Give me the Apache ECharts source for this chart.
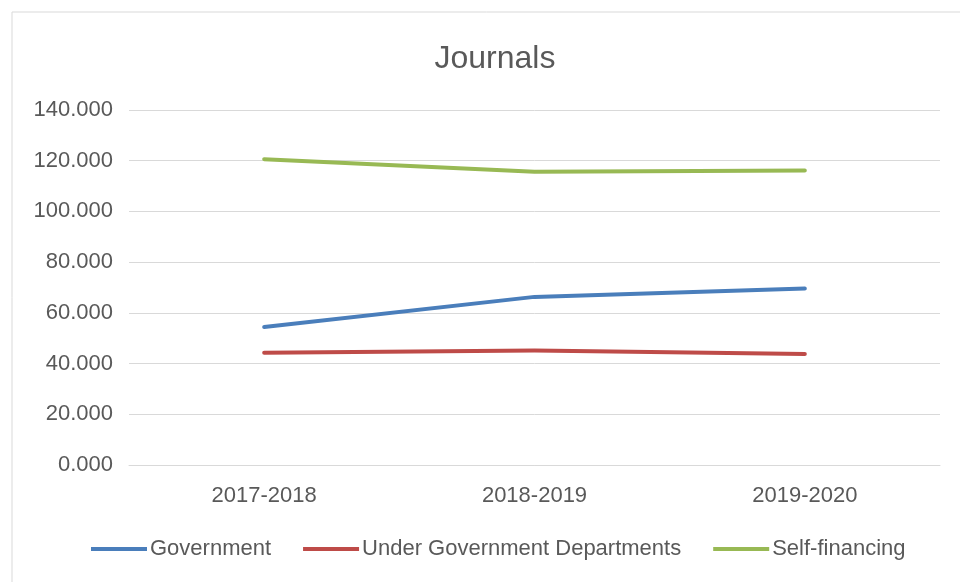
<!DOCTYPE html>
<html>
<head>
<meta charset="utf-8">
<script src="https://cdn.jsdelivr.net/npm/echarts@6/dist/echarts.min.js"></script>
<style>
  html, body { margin: 0; padding: 0; background: #fff; }
  #chart-container { width: 960px; height: 582px; }
</style>
</head>
<body>
<div id="chart-container"></div>
<script>
// data
var years = ["2017-2018", "2018-2019", "2019-2020"];
var government = [54.4, 66.3, 69.6];
var underGovDepts = [44.3, 45.2, 43.8];
var selfFinancing = [120.6, 115.6, 116.1];
var seriesNames = ["Government", "Under Government Departments", "Self-financing"];

var dom = document.getElementById("chart-container");
var myChart = echarts.init(dom, null, { renderer: "canvas" });

var font = "'Liberation Sans', sans-serif";
var textColor = "#595959";

var lineSeries = function (name, data, color) {
  return {
    name: name,
    type: "line",
    data: data,
    symbol: "none",
    smooth: false,
    lineStyle: { width: 4, color: color, cap: "round", join: "round" },
    itemStyle: { color: color }
  };
};

var option = {
  animation: false,
  backgroundColor: "#fff",
  graphic: [
    {
      type: "rect",
      shape: { x: 12, y: 12, width: 960, height: 600 },
      style: { fill: "none", stroke: "#d9d9d9", lineWidth: 1 }
    }
  ],
  title: {
    text: "Journals",
    left: 490,
    top: 38,
    textAlign: "center",
    textStyle: { fontFamily: font, fontSize: 32, fontWeight: "normal", color: textColor }
  },
  legend: {
    bottom: 17,
    left: 86,
    itemWidth: 56,
    itemHeight: 4,
    itemGap: 32,
    icon: "rect",
    textStyle: { fontFamily: font, fontSize: 22, color: textColor, padding: [0, 0, 0, -2] },
    data: seriesNames
  },
  grid: { left: 129, right: 20, top: 110, bottom: 117 },
  xAxis: {
    type: "category",
    data: years,
    boundaryGap: true,
    axisLine: { show: true, lineStyle: { color: "#d9d9d9" } },
    axisTick: { show: false },
    axisLabel: { fontFamily: font, fontSize: 22, color: textColor, margin: 20 }
  },
  yAxis: {
    type: "value",
    min: 0,
    max: 140,
    interval: 20,
    axisLine: { show: false },
    axisTick: { show: false },
    splitLine: { lineStyle: { color: "#d9d9d9", width: 1 } },
    axisLabel: {
      fontFamily: font,
      fontSize: 22,
      color: textColor,
      margin: 16,
      formatter: function (v) { return v.toFixed(3); }
    }
  },
  series: [
    lineSeries(seriesNames[0], government, "#4a7ebb"),
    lineSeries(seriesNames[1], underGovDepts, "#be4b48"),
    lineSeries(seriesNames[2], selfFinancing, "#98b954")
  ]
};

myChart.setOption(option);
window.addEventListener("resize", myChart.resize);
</script>
</body>
</html>
